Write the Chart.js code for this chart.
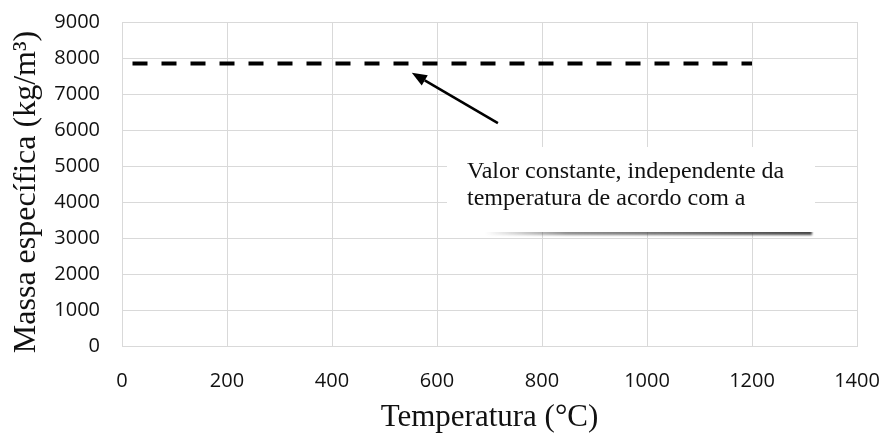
<!DOCTYPE html>
<html>
<head>
<meta charset="utf-8">
<script src="https://cdn.jsdelivr.net/npm/chart.js@4/dist/chart.umd.min.js"></script>
<style>
  html, body { margin: 0; padding: 0; background: #fff; }
  #wrap { width: 884px; height: 436px; position: relative; }
</style>
</head>
<body>
<div id="wrap"><canvas id="densityChart"></canvas></div>
<script>
// constant density of steel over the temperature range
const temperatures = [20, 1200];
const density = [7850, 7850];
const xTicks = [0, 200, 400, 600, 800, 1000, 1200, 1400];
const yTicks = [0, 1000, 2000, 3000, 4000, 5000, 6000, 7000, 8000, 9000];

const noteLines = [
    "Valor constante, independente da",
    "temperatura de acordo com a"
];

// arrow from the note up to the dashed line (data units)
const arrowFrom = { x: 716, y: 6190 };
const arrowTo = { x: 552, y: 7590 };

const tickFont = { family: 'Open Sans', size: 20 };
const gridColor = '#d9d9d9';

// callout box + arrow, drawn on top of the plot
const notePlugin = {
    id: 'note',
    afterDatasetsDraw(chart) {
        const { ctx, scales: { x, y } } = chart;
        const left = 447, right = 815, top = 147, bottom = 232;

        ctx.save();
        // soft shadow under the box
        const g = ctx.createLinearGradient(485, 0, 812, 0);
        g.addColorStop(0, 'rgba(70,70,70,0)');
        g.addColorStop(0.25, 'rgba(70,70,70,0.6)');
        g.addColorStop(1, 'rgba(50,50,50,0.9)');
        ctx.filter = 'blur(1.2px)';
        ctx.fillStyle = g;
        ctx.fillRect(485, bottom - 2, 327, 5);
        ctx.filter = 'none';

        ctx.fillStyle = '#fff';
        ctx.fillRect(left, top, right - left, bottom - top);

        ctx.fillStyle = '#111';
        ctx.font = '24px "Liberation Serif"';
        ctx.textBaseline = 'alphabetic';
        ctx.textAlign = 'left';
        noteLines.forEach((line, i) => ctx.fillText(line, 467, 178 + i * 27));

        // arrow
        const x0 = x.getPixelForValue(arrowFrom.x), y0 = y.getPixelForValue(arrowFrom.y);
        const x1 = x.getPixelForValue(arrowTo.x), y1 = y.getPixelForValue(arrowTo.y);
        const ang = Math.atan2(y1 - y0, x1 - x0);
        const head = 15, half = 6;
        const bx = x1 - head * Math.cos(ang), by = y1 - head * Math.sin(ang);
        ctx.strokeStyle = '#000';
        ctx.lineWidth = 2.5;
        ctx.beginPath();
        ctx.moveTo(x0, y0);
        ctx.lineTo(bx, by);
        ctx.stroke();
        ctx.fillStyle = '#000';
        ctx.beginPath();
        ctx.moveTo(x1, y1);
        ctx.lineTo(bx + half * Math.sin(ang), by - half * Math.cos(ang));
        ctx.lineTo(bx - half * Math.sin(ang), by + half * Math.cos(ang));
        ctx.closePath();
        ctx.fill();
        ctx.restore();
    }
};

new Chart(document.getElementById('densityChart'), {
    type: 'line',
    data: {
        datasets: [{
            label: 'Massa específica',
            data: temperatures.map((t, i) => ({ x: t, y: density[i] })),
            borderColor: '#000',
            borderWidth: 4,
            borderDash: [15, 14],
            pointRadius: 0,
            fill: false
        }]
    },
    options: {
        responsive: true,
        maintainAspectRatio: false,
        animation: false,
        layout: { padding: { top: 22, right: 27, left: 0, bottom: 0 } },
        plugins: {
            legend: { display: false },
            tooltip: { enabled: false }
        },
        scales: {
            x: {
                type: 'linear',
                min: 0,
                max: 1400,
                afterFit: s => { s.height = 90; s.paddingLeft = 0; s.paddingRight = 0; },
                afterBuildTicks: s => { s.ticks = xTicks.map(v => ({ value: v })); },
                grid: { color: gridColor, lineWidth: 1, drawTicks: false },
                border: { color: gridColor },
                ticks: { color: '#111', font: tickFont, padding: 23, maxRotation: 0, callback: v => String(v) },
                title: {
                    display: true,
                    text: 'Temperatura (°C)',
                    color: '#111',
                    font: { family: 'Liberation Serif', size: 31 },
                    padding: { top: 0, bottom: 0 }
                }
            },
            y: {
                min: 0,
                max: 9000,
                afterFit: s => { s.width = 122; s.paddingTop = 0; s.paddingBottom = 0; },
                afterBuildTicks: s => { s.ticks = yTicks.map(v => ({ value: v })); },
                grid: { color: gridColor, lineWidth: 1, drawTicks: false },
                border: { color: gridColor },
                ticks: { color: '#111', font: tickFont, padding: 22, callback: v => String(v) },
                title: {
                    display: true,
                    text: 'Massa específica (kg/m³)\u00a0\u00a0',
                    color: '#111',
                    font: { family: 'Liberation Serif', size: 32 },
                    padding: { top: 7, bottom: 0 }
                }
            }
        }
    },
    plugins: [notePlugin]
});
</script>
</body>
</html>
